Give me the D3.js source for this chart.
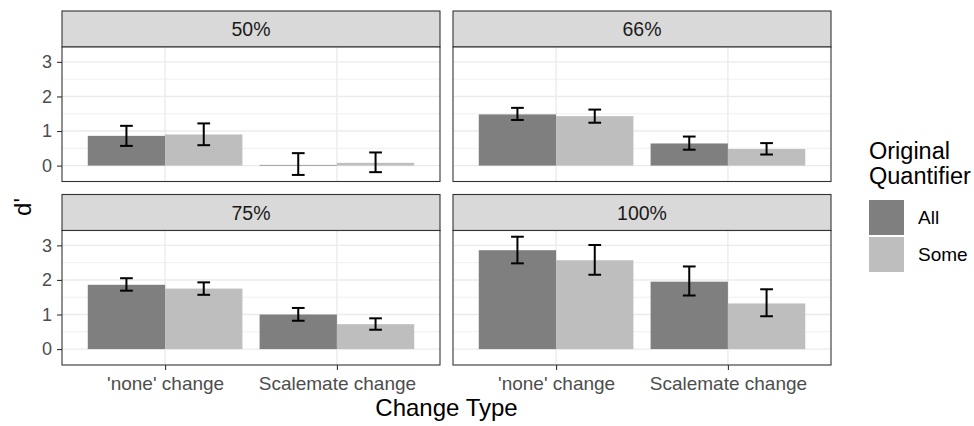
<!DOCTYPE html>
<html>
<head>
<meta charset="utf-8">
<script src="https://cdn.jsdelivr.net/npm/d3@7"></script>
<style>
  html, body { margin: 0; padding: 0; background: #ffffff; }
  svg { display: block; font-family: "Liberation Sans", Arial, Helvetica, sans-serif; }
</style>
</head>
<body>
<svg id="chart" width="974" height="426"></svg>
<script>
// Facets (proportion of trials) and the two factors plotted in each panel
const facets = ["50%", "66%", "75%", "100%"];
const changeTypes = ["'none' change", "Scalemate change"];
const quantifiers = ["All", "Some"];

// d' means and error-bar limits; one row per facet, columns follow changeTypes
const allMean  = [[0.86, 0.02], [1.48, 0.64], [1.86, 1.00], [2.86, 1.95]];
const allLow   = [[0.57, -0.27], [1.32, 0.46], [1.69, 0.82], [2.48, 1.55]];
const allHigh  = [[1.15, 0.36], [1.67, 0.84], [2.05, 1.19], [3.25, 2.39]];
const someMean = [[0.90, 0.08], [1.43, 0.48], [1.75, 0.72], [2.57, 1.32]];
const someLow  = [[0.59, -0.19], [1.24, 0.32], [1.57, 0.56], [2.15, 0.95]];
const someHigh = [[1.22, 0.38], [1.62, 0.65], [1.93, 0.89], [3.01, 1.73]];

const yTicks = [0, 1, 2, 3];
const yMinor = [0.5, 1.5, 2.5];

const fills = ["#7f7f7f", "#bebebe"];

const svg = d3.select("#chart");

// Panel grid geometry
const gridLeft = 62, gridTop = 11;
const panelW = 378, gapX = 13;
const stripH = 36, bodyH = 134.5, gapY = 13;

const x = d3.scalePoint().domain(changeTypes).range([0, panelW]).padding(0.6);
const step = x.step();
const xq = d3.scaleBand().domain(quantifiers).range([-0.45 * step, 0.45 * step]);
const y = d3.scaleLinear().domain([-0.46, 3.43]).range([bodyH, 0]);
const color = d3.scaleOrdinal().domain(quantifiers).range(fills);

const rows = facets.map((f, i) => ({
  facet: f,
  col: i % 2,
  row: Math.floor(i / 2),
  bars: changeTypes.flatMap((c, j) => [
    { change: c, q: "All",  mean: allMean[i][j],  lo: allLow[i][j],  hi: allHigh[i][j] },
    { change: c, q: "Some", mean: someMean[i][j], lo: someLow[i][j], hi: someHigh[i][j] }
  ])
}));

const panel = svg.selectAll("g.panel")
  .data(rows)
  .join("g")
  .attr("class", "panel")
  .attr("transform", d => `translate(${gridLeft + d.col * (panelW + gapX)},${gridTop + d.row * (stripH + bodyH + gapY)})`);

// Strip with facet label
panel.append("rect")
  .attr("x", 0).attr("y", 0)
  .attr("width", panelW).attr("height", stripH)
  .attr("fill", "#d9d9d9")
  .attr("stroke", "#333333").attr("stroke-width", 1.1);
panel.append("text")
  .attr("x", panelW / 2).attr("y", stripH / 2)
  .attr("dy", "0.36em")
  .attr("text-anchor", "middle")
  .attr("font-size", 19.5)
  .attr("fill", "#1a1a1a")
  .text(d => d.facet);

const body = panel.append("g").attr("transform", `translate(0,${stripH})`);

body.append("rect")
  .attr("width", panelW).attr("height", bodyH)
  .attr("fill", "#ffffff");

// Gridlines
body.selectAll("line.minor").data(yMinor).join("line")
  .attr("x1", 0).attr("x2", panelW)
  .attr("y1", d => y(d)).attr("y2", d => y(d))
  .attr("stroke", "#ebebeb").attr("stroke-width", 0.8);
body.selectAll("line.major").data(yTicks).join("line")
  .attr("x1", 0).attr("x2", panelW)
  .attr("y1", d => y(d)).attr("y2", d => y(d))
  .attr("stroke", "#ebebeb").attr("stroke-width", 1.4);
body.selectAll("line.vmajor").data(changeTypes).join("line")
  .attr("x1", d => x(d)).attr("x2", d => x(d))
  .attr("y1", 0).attr("y2", bodyH)
  .attr("stroke", "#ebebeb").attr("stroke-width", 1.4);

// Bars
body.selectAll("rect.bar").data(d => d.bars).join("rect")
  .attr("class", "bar")
  .attr("x", d => x(d.change) + xq(d.q))
  .attr("width", xq.bandwidth())
  .attr("y", d => Math.min(y(d.mean), y(0)))
  .attr("height", d => Math.abs(y(0) - y(d.mean)))
  .attr("fill", d => color(d.q));

// Error bars
const capHalf = 0.037 * step;
const eb = body.selectAll("g.err").data(d => d.bars).join("g")
  .attr("class", "err")
  .attr("transform", d => `translate(${x(d.change) + xq(d.q) + xq.bandwidth() / 2},0)`)
  .attr("stroke", "#000000").attr("stroke-width", 2).attr("fill", "none");
eb.append("line").attr("x1", 0).attr("x2", 0).attr("y1", d => y(d.lo)).attr("y2", d => y(d.hi));
eb.append("line").attr("x1", -capHalf).attr("x2", capHalf).attr("y1", d => y(d.lo)).attr("y2", d => y(d.lo));
eb.append("line").attr("x1", -capHalf).attr("x2", capHalf).attr("y1", d => y(d.hi)).attr("y2", d => y(d.hi));

// Panel border
body.append("rect")
  .attr("width", panelW).attr("height", bodyH)
  .attr("fill", "none")
  .attr("stroke", "#333333").attr("stroke-width", 1.1);

// Y axes on the left column
body.filter(d => d.col === 0).each(function () {
  const ax = d3.select(this).append("g")
    .call(d3.axisLeft(y).tickValues(yTicks).tickFormat(d3.format("d")).tickSize(5).tickPadding(5));
  ax.select(".domain").remove();
  ax.selectAll(".tick line").attr("stroke", "#333333").attr("stroke-width", 1.1);
  ax.selectAll(".tick text")
    .attr("font-family", "Liberation Sans, Arial, sans-serif")
    .attr("font-size", 18).attr("fill", "#4d4d4d");
});

// X axes on the bottom row
body.filter(d => d.row === 1).each(function () {
  const ax = d3.select(this).append("g")
    .attr("transform", `translate(0,${bodyH})`)
    .call(d3.axisBottom(x).tickSize(5).tickPadding(7));
  ax.select(".domain").remove();
  ax.selectAll(".tick line").attr("stroke", "#333333").attr("stroke-width", 1.1);
  ax.selectAll(".tick text")
    .attr("font-family", "Liberation Sans, Arial, sans-serif")
    .attr("font-size", 19).attr("fill", "#4d4d4d");
});

// Axis titles
svg.append("text")
  .attr("x", gridLeft + panelW + gapX / 2).attr("y", 416)
  .attr("text-anchor", "middle")
  .attr("font-size", 24).attr("fill", "#000000")
  .text("Change Type");
svg.append("text")
  .attr("transform", "translate(31,207) rotate(-90)")
  .attr("text-anchor", "middle")
  .attr("font-size", 24).attr("fill", "#000000")
  .text("d'");

// Legend
const legend = svg.append("g").attr("transform", "translate(869,0)");
legend.append("text").attr("x", 0).attr("y", 159).attr("font-size", 23.5).text("Original");
legend.append("text").attr("x", 0).attr("y", 184).attr("font-size", 23.5).text("Quantifier");
const keys = legend.selectAll("g.key").data(quantifiers).join("g")
  .attr("class", "key")
  .attr("transform", (d, i) => `translate(0,${200 + i * 37})`);
keys.append("rect")
  .attr("width", 35).attr("height", 35)
  .attr("fill", d => color(d));
keys.append("text")
  .attr("x", 49).attr("y", 17.5).attr("dy", "0.36em")
  .attr("font-size", 19).attr("fill", "#000000")
  .text(d => d);
</script>
</body>
</html>
